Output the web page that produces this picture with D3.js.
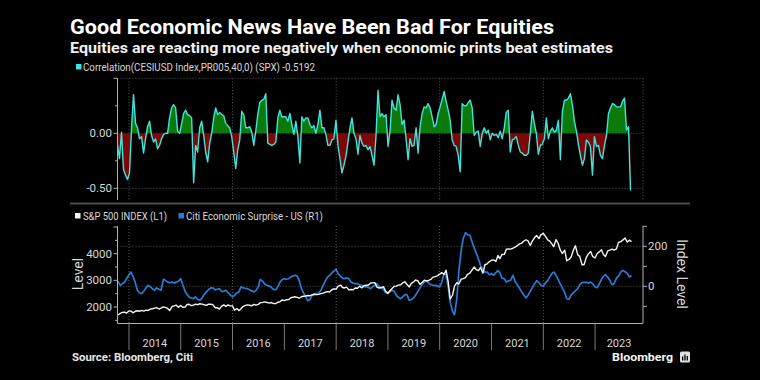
<!DOCTYPE html>
<html><head><meta charset="utf-8">
<script src="https://cdn.jsdelivr.net/npm/d3@7"></script>
<style>html,body{margin:0;padding:0;background:#000;}svg{display:block}</style>
</head><body><svg id="c" width="760" height="380"></svg>
<script>
// ---- DATA ----
const corrStart = "2013-10-12", corrEnd = "2023-09-08";
const corrValues = [
-0.11,-0.23,0.01,-0.33,-0.38,-0.42,-0.36,0.05,0.35,0.09,0.05,-0.05,-0.03,-0.18,-0.05,0.06,0.11,-0.02,-0.08,-0.05,-0.14,-0.11,-0.05,-0.01,0.00,0.00,0.14,0.23,0.26,0.23,0.02,0.00,0.09,0.18,0.21,0.17,0.16,0.14,-0.45,-0.11,-0.17,0.05,0.11,-0.02,-0.17,-0.26,-0.09,0.00,0.14,0.23,0.17,0.19,0.17,0.16,0.09,0.07,0.05,-0.03,-0.17,-0.32,-0.15,-0.06,0.20,0.17,0.05,0.05,0.06,
0.01,-0.11,0.02,0.17,0.28,0.30,0.31,0.36,-0.09,-0.10,-0.11,-0.10,-0.08,0.14,0.21,0.15,0.15,0.15,0.11,0.18,0.08,-0.01,0.11,-0.03,-0.27,0.15,0.11,0.14,0.14,0.08,0.05,0.07,0.00,0.08,0.21,0.05,0.05,-0.01,-0.11,-0.11,-0.06,-0.05,0.12,-0.11,-0.23,-0.36,-0.29,-0.21,-0.08,0.05,0.14,0.00,-0.05,-0.19,-0.02,-0.09,-0.12,-0.11,-0.15,-0.12,-0.20,-0.29,-0.02,0.39,0.15,0.18,
0.15,0.17,-0.12,0.02,0.30,0.23,0.21,0.35,0.26,0.08,0.12,-0.05,-0.24,-0.05,-0.12,-0.11,0.05,-0.18,0.06,0.18,0.24,0.23,0.27,0.23,0.15,0.06,0.08,0.18,0.24,0.31,0.38,0.29,0.21,0.12,-0.06,-0.11,-0.12,-0.20,-0.35,0.27,0.25,0.25,0.28,0.30,0.23,-0.02,0.01,0.02,-0.12,0.00,0.05,0.00,0.03,-0.06,0.00,-0.02,-0.01,-0.04,0.02,-0.05,0.05,0.19,0.21,-0.17,-0.06,-0.05,-0.03,
-0.11,-0.17,-0.18,-0.20,-0.20,-0.18,0.00,0.20,0.09,0.00,-0.19,-0.11,-0.10,-0.05,0.14,-0.05,0.02,0.05,0.01,0.03,0.12,-0.24,0.20,0.30,0.30,0.32,0.36,0.26,0.11,0.02,-0.10,-0.20,-0.29,-0.23,-0.06,-0.08,-0.12,-0.38,-0.03,-0.12,-0.11,-0.20,-0.23,-0.11,-0.02,0.18,0.23,0.27,0.26,0.24,0.24,0.24,0.29,0.32,0.03,0.06,-0.5192
];
// semi-monthly (1st and 15th) from 2013-10-15 to 2023-09-15
const spxValues = [
1700,1760,1795,1806,1775,
1848,1845,1782,1840,1859,1840,1872,1845,1884,1870,1924,1935,1960,1975,1925,1955,2003,1985,1946,1865,2018,2040,2068,1990,
2059,1992,1995,2096,2105,2053,2068,2106,2086,2122,2107,2084,2063,2108,2104,2091,1972,1978,1920,2023,2079,2023,2080,2043,
2044,1880,1940,1865,1932,2016,2060,2080,2065,2046,2097,2071,2099,2161,2174,2190,2171,2147,2168,2133,2126,2180,2199,2262,
2239,2274,2279,2349,2364,2385,2363,2329,2384,2402,2412,2432,2423,2459,2470,2464,2472,2500,2519,2553,2575,2564,2648,2675,
2674,2786,2824,2731,2714,2747,2641,2656,2648,2711,2705,2780,2718,2798,2816,2818,2902,2905,2914,2750,2712,2730,2760,2600,
2507,2610,2704,2775,2784,2822,2834,2905,2946,2850,2752,2886,2942,3014,2980,2848,2926,3007,2977,2995,3038,3120,3141,3168,
3231,3289,3226,3380,2954,2300,2450,2783,2912,2863,3044,3066,3100,3226,3271,3373,3500,3401,3363,3483,3270,3585,3622,3694,
3756,3768,3714,3934,3811,3968,3973,4170,4181,4173,4204,4246,4298,4360,4395,4468,4523,4480,4308,4471,4605,4682,4567,4709,
4766,4662,4516,4471,4374,4262,4530,4392,4132,4008,4132,3735,3785,3863,4130,4297,3955,3901,3586,3583,3872,3992,4080,3896,
3840,3999,4077,4147,3970,3892,4109,4137,4169,4136,4180,4426,4450,4510,4589,4437,4508,4450
];
const cesiValues = [
26,5,13,21,38,
58,71,46,16,-20,-32,-37,-25,-8,5,-3,-12,-20,-8,-15,-20,35,30,21,18,21,16,21,25,
38,8,-25,-42,-53,-58,-62,-53,-65,-70,-58,-42,-28,-17,-8,-8,-18,-15,-12,-25,-25,-20,-32,-42,
-53,-45,-33,-28,-3,-7,-10,-12,-17,-23,-28,-20,-3,35,25,11,5,1,-5,-15,-17,-3,21,33,
38,35,38,46,51,55,51,30,-12,-32,-53,-73,-65,-45,-37,-37,-32,-20,5,25,46,55,66,76,
85,63,51,41,38,43,38,21,16,13,13,8,5,-2,-3,-5,-12,-3,5,13,-2,-8,-15,-32,
-32,-28,-20,-25,-45,-55,-62,-53,-42,-42,-70,-67,-58,-45,-25,-8,11,21,28,16,8,5,5,1,
-3,18,63,58,-3,-79,-125,-142,-62,71,180,238,268,258,255,225,191,166,135,105,83,71,71,58,
63,55,68,78,68,41,38,21,28,30,55,26,8,-8,-28,-42,-58,-45,-25,-8,13,28,18,5,
0,16,28,46,63,71,55,35,11,-8,-32,-62,-65,-45,-32,-23,-12,8,18,20,20,15,21,13,
-2,-7,13,35,51,58,45,30,8,13,41,51,71,80,73,65,46,55
];
const years = [2014,2015,2016,2017,2018,2019,2020,2021,2022,2023];
const gridYears = [2014,2016,2018,2020,2022];
const corrTickLabels = [0, -0.5];
const corrTicksAll = [0.5,0.25,0,-0.25,-0.5];
const spxTickLabels = [2000,3000,4000];
const spxTicksAll = [1500,2000,2500,3000,3500,4000,4500,5000];
const cesiTickLabels = [0,200];
const cesiTicksAll = [-100,0,100,200,300];
const titleText = "Good Economic News Have Been Bad For Equities";
const subtitleText = "Equities are reacting more negatively when economic prints beat estimates";
const legendTop = "Correlation(CESIUSD Index,PR005,40,0) (SPX) -0.5192";
const legendSpx = "S&P 500 INDEX (L1)";
const legendCesi = "Citi Economic Surprise - US (R1)";
const sourceText = "Source: Bloomberg, Citi";

// ---- BUILD ----
const svg = d3.select("#c");
const FONT = "Roboto, 'Liberation Sans', sans-serif";
const C_CYAN = "#40e4dc", C_GREEN = "#0b7a0b", C_RED = "#7d0707", C_BLUE = "#2a7bd4", C_WHITE = "#f4f4f4";
const GRID = "#5a5a5a", AXIS = "#b0b0b0", TXT = "#d8d8d8";

svg.append("rect").attr("width",760).attr("height",380).attr("fill","#000");

const parse = d3.timeParse("%Y-%m-%d");
const x = d3.scaleTime().domain([parse("2013-10-12"), parse("2023-12-05")]).range([117.5, 643]);
const X0 = 117.5, X1 = 643;

const cs = parse(corrStart), ce = parse(corrEnd);
const corrData = corrValues.map((v,i)=>({d:new Date(+cs + (ce-cs)*i/(corrValues.length-1)), v}));

const months = d3.timeMonth.range(new Date(2013,9,1), new Date(2023,9,1));
let semi = [];
months.forEach(m=>{ semi.push(m); semi.push(d3.timeDay.offset(m,14)); });
semi = semi.slice(1);
const spxData = spxValues.map((v,i)=>({d:semi[i], v}));
const cesiData = cesiValues.map((v,i)=>({d:semi[i], v}));

// titles
svg.append("text").attr("x",70).attr("y",34).text(titleText)
  .attr("font-family",FONT).attr("font-weight","bold").attr("font-size",20).attr("fill","#fff")
  .attr("textLength",484).attr("lengthAdjust","spacingAndGlyphs");
svg.append("text").attr("x",70).attr("y",52.5).text(subtitleText)
  .attr("font-family",FONT).attr("font-weight","bold").attr("font-size",15).attr("fill","#f0f0f0")
  .attr("textLength",543).attr("lengthAdjust","spacingAndGlyphs");

// top legend
svg.append("rect").attr("x",76).attr("y",64).attr("width",5.5).attr("height",5.5).attr("fill",C_CYAN);
svg.append("text").attr("x",83).attr("y",70.5).text(legendTop)
  .attr("font-family",FONT).attr("font-size",10).attr("fill",TXT)
  .attr("textLength",232).attr("lengthAdjust","spacingAndGlyphs");

// ---- TOP PANEL ----
const T0 = 78.3, T1 = 200;
const yCorr = d3.scaleLinear().domain([-0.5,0.5]).range([188.3,78.3]);
const gT = svg.append("g");
gridYears.forEach(yr=>{
  const xx = x(new Date(yr,0,1));
  gT.append("line").attr("x1",xx).attr("x2",xx).attr("y1",T0).attr("y2",T1)
    .attr("stroke",GRID).attr("stroke-dasharray","1,2");
});
[0.5,0,-0.5].forEach(v=>{
  gT.append("line").attr("x1",X0).attr("x2",X1).attr("y1",yCorr(v)).attr("y2",yCorr(v))
    .attr("stroke",GRID).attr("stroke-dasharray","1,2");
});
gT.append("line").attr("x1",X1).attr("x2",X1).attr("y1",T0).attr("y2",T1)
  .attr("stroke",GRID).attr("stroke-dasharray","1,2");

const defs = svg.append("defs");
defs.append("clipPath").attr("id","pos").append("rect")
  .attr("x",X0).attr("y",T0-10).attr("width",X1-X0).attr("height",yCorr(0)-(T0-10));
defs.append("clipPath").attr("id","neg").append("rect")
  .attr("x",X0).attr("y",yCorr(0)).attr("width",X1-X0).attr("height",T1+10-yCorr(0));
defs.append("clipPath").attr("id","bot").append("rect")
  .attr("x",X0).attr("y",222).attr("width",X1-X0).attr("height",102);

const area = d3.area().x(d=>x(d.d)).y0(yCorr(0)).y1(d=>yCorr(d.v));
gT.append("path").datum(corrData).attr("d",area).attr("fill",C_GREEN).attr("clip-path","url(#pos)");
gT.append("path").datum(corrData).attr("d",area).attr("fill",C_RED).attr("clip-path","url(#neg)");
const lineC = d3.line().x(d=>x(d.d)).y(d=>yCorr(d.v));
gT.append("path").datum(corrData).attr("d",lineC).attr("fill","none").attr("stroke",C_CYAN)
  .attr("stroke-width",1.4).attr("stroke-linejoin","round");

gT.append("line").attr("x1",X0).attr("x2",X0).attr("y1",T0).attr("y2",T1).attr("stroke",AXIS);
corrTicksAll.forEach(v=>{
  const major = corrTickLabels.includes(v) || v===0.5;
  gT.append("line").attr("x1",X0-(major?4:2.5)).attr("x2",X0).attr("y1",yCorr(v)).attr("y2",yCorr(v)).attr("stroke",AXIS);
});
corrTickLabels.forEach(v=>{
  gT.append("text").attr("x",112).attr("y",yCorr(v)+4).attr("text-anchor","end")
    .text(d3.format(".2f")(v).replace("−","-")).attr("font-family",FONT).attr("font-size",11.5).attr("fill",TXT);
});

// separator
svg.append("line").attr("x1",70).attr("x2",690).attr("y1",203.5).attr("y2",203.5)
  .attr("stroke","#4d4d4d").attr("stroke-width",2);

// bottom legend
svg.append("rect").attr("x",75).attr("y",213).attr("width",5.5).attr("height",5.5).attr("fill",C_WHITE);
svg.append("text").attr("x",83).attr("y",219.5).text(legendSpx)
  .attr("font-family",FONT).attr("font-size",10).attr("fill",TXT)
  .attr("textLength",84).attr("lengthAdjust","spacingAndGlyphs");
svg.append("rect").attr("x",178.5).attr("y",213).attr("width",5.5).attr("height",5.5).attr("fill",C_BLUE);
svg.append("text").attr("x",186).attr("y",219.5).text(legendCesi)
  .attr("font-family",FONT).attr("font-size",10).attr("fill",TXT)
  .attr("textLength",137).attr("lengthAdjust","spacingAndGlyphs");

// ---- BOTTOM PANEL ----
const B0 = 226, B1 = 323.5;
const yS = d3.scaleLinear().domain([2000,4000]).range([307,253.7]);
const yC = d3.scaleLinear().domain([0,200]).range([286.3,246.3]);
const gB = svg.append("g");
gridYears.forEach(yr=>{
  const xx = x(new Date(yr,0,1));
  gB.append("line").attr("x1",xx).attr("x2",xx).attr("y1",B0).attr("y2",B1)
    .attr("stroke",GRID).attr("stroke-dasharray","1,2");
});
cesiTickLabels.forEach(v=>{
  gB.append("line").attr("x1",X0).attr("x2",X1).attr("y1",yC(v)).attr("y2",yC(v))
    .attr("stroke",GRID).attr("stroke-dasharray","1,2");
});
const lineCesi = d3.line().x(d=>x(d.d)).y(d=>yC(d.v));
const lineSpx = d3.line().x(d=>x(d.d)).y(d=>yS(d.v));
gB.append("path").datum(cesiData).attr("d",lineCesi).attr("fill","none").attr("stroke",C_BLUE)
  .attr("stroke-width",1.7).attr("stroke-linejoin","round").attr("clip-path","url(#bot)");
gB.append("path").datum(spxData).attr("d",lineSpx).attr("fill","none").attr("stroke",C_WHITE)
  .attr("stroke-width",1.4).attr("stroke-linejoin","round").attr("clip-path","url(#bot)");

gB.append("line").attr("x1",X0).attr("x2",X0).attr("y1",B0).attr("y2",B1).attr("stroke",AXIS);
gB.append("line").attr("x1",X1).attr("x2",X1).attr("y1",B0).attr("y2",B1).attr("stroke",AXIS);
gB.append("line").attr("x1",X0).attr("x2",X1).attr("y1",B1).attr("y2",B1).attr("stroke",AXIS);
spxTicksAll.forEach(v=>{
  const major = v%1000===0;
  gB.append("line").attr("x1",X0-(major?4:2.5)).attr("x2",X0).attr("y1",yS(v)).attr("y2",yS(v)).attr("stroke",AXIS);
});
spxTickLabels.forEach(v=>{
  gB.append("text").attr("x",112).attr("y",yS(v)+4).attr("text-anchor","end").text(v)
    .attr("font-family",FONT).attr("font-size",11.5).attr("fill",TXT);
});
cesiTicksAll.forEach(v=>{
  gB.append("line").attr("x1",X1).attr("x2",X1+4).attr("y1",yC(v)).attr("y2",yC(v)).attr("stroke",AXIS);
});
cesiTickLabels.forEach(v=>{
  gB.append("text").attr("x",648).attr("y",yC(v)+4).attr("text-anchor","start").text(v)
    .attr("font-family",FONT).attr("font-size",11.5).attr("fill",TXT);
});
years.forEach(yr=>{
  const xa = x(new Date(yr,0,1)), xb = Math.min(X1, x(new Date(yr+1,0,1)));
  gB.append("line").attr("x1",xa).attr("x2",xa).attr("y1",B1).attr("y2",350).attr("stroke","#7a7a7a");
  gB.append("text").attr("x",(xa+xb)/2).attr("y",347).attr("text-anchor","middle").text(yr)
    .attr("font-family",FONT).attr("font-size",11).attr("fill",TXT);
});
svg.append("text").attr("transform","translate(83,274) rotate(-90)").attr("text-anchor","middle")
  .text("Level").attr("font-family",FONT).attr("font-size",14).attr("fill",TXT);
svg.append("text").attr("transform","translate(677,274) rotate(90)").attr("text-anchor","middle")
  .text("Index Level").attr("font-family",FONT).attr("font-size",14).attr("fill",TXT);

// source & logo
svg.append("text").attr("x",72).attr("y",361).text(sourceText)
  .attr("font-family",FONT).attr("font-weight","bold").attr("font-size",10.5).attr("fill","#e6e6e6")
  .attr("textLength",121).attr("lengthAdjust","spacingAndGlyphs");
svg.append("text").attr("x",612).attr("y",361).text("Bloomberg")
  .attr("font-family",FONT).attr("font-weight","bold").attr("font-size",11.5).attr("fill","#f4f4f4")
  .attr("textLength",61).attr("lengthAdjust","spacingAndGlyphs");
const logo = svg.append("g").attr("transform","translate(680,351.5)");
logo.append("rect").attr("width",10).attr("height",11).attr("rx",1.5).attr("fill","#e0e0e0");
[[2,5,1.3,4],[4.3,3,1.3,6],[6.6,4.5,1.3,4.5]].forEach(b=>{
  logo.append("rect").attr("x",b[0]).attr("y",b[1]).attr("width",b[2]).attr("height",b[3]).attr("fill","#000");
});
</script></body></html>
